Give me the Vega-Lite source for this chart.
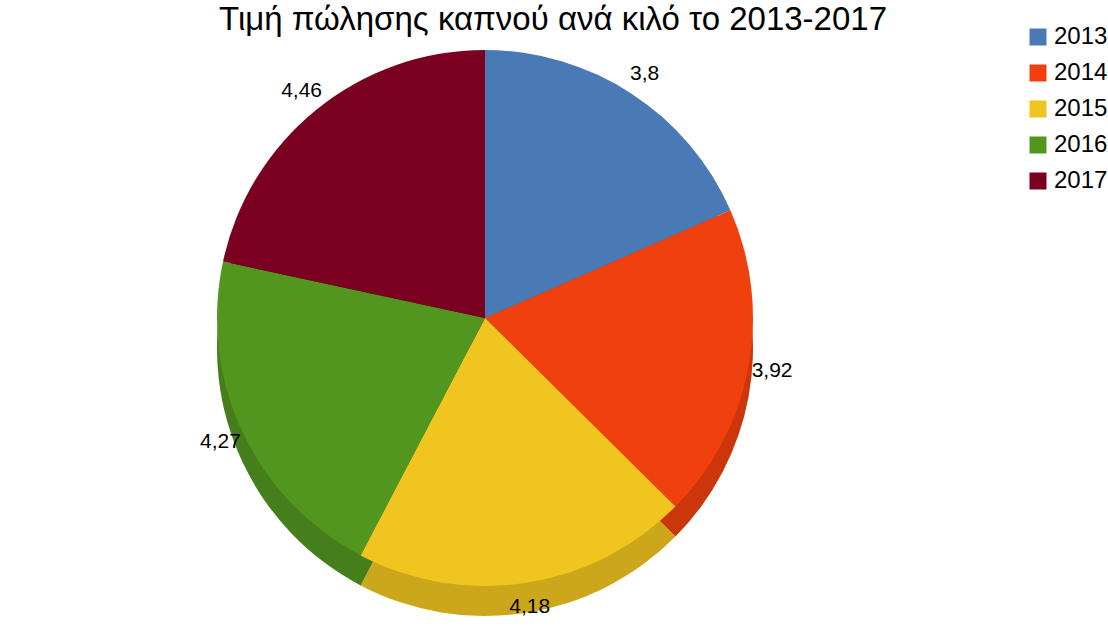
{
  "$schema": "https://vega.github.io/schema/vega-lite/v6.json",
  "width": 970,
  "height": 612,
  "padding": {"left": 0, "top": 4, "right": 0, "bottom": 4},
  "background": "white",
  "config": {
    "font": "Liberation Sans",
    "view": {"stroke": null},
    "locale": {"number": {"decimal": ",", "thousands": ".", "grouping": [3], "currency": ["", " €"]}}
  },
  "title": {
    "text": "Τιμή πώλησης καπνού ανά κιλό το 2013-2017",
    "fontSize": 33,
    "fontWeight": "normal",
    "font": "Liberation Sans",
    "color": "#000000",
    "anchor": "middle",
    "dx": 68,
    "offset": -25
  },
  "data": {
    "values": [
      {"year": "2013", "price": 3.8},
      {"year": "2014", "price": 3.92},
      {"year": "2015", "price": 4.18},
      {"year": "2016", "price": 4.27},
      {"year": "2017", "price": 4.46}
    ]
  },
  "encoding": {
    "theta": {"field": "price", "type": "quantitative", "stack": true},
    "order": {"field": "year", "type": "ordinal"}
  },
  "layer": [
    {
      "mark": {"type": "arc", "outerRadius": 268, "yOffset": 30},
      "encoding": {
        "color": {
          "field": "year",
          "type": "nominal",
          "scale": {
            "domain": ["2013", "2014", "2015", "2016", "2017"],
            "range": ["#4a7ab5", "#f0400e", "#f1c520", "#52951f", "#7a0020"]
          },
          "legend": {
            "title": null,
            "orient": "none",
            "legendX": 1026,
            "legendY": 13,
            "symbolType": "square",
            "symbolSize": 289,
            "symbolStrokeWidth": 0,
            "labelFontSize": 24,
            "labelFont": "Liberation Sans",
            "labelColor": "#000000",
            "labelOffset": 4,
            "rowPadding": 12
          }
        }
      }
    },
    {
      "mark": {"type": "arc", "outerRadius": 268, "yOffset": 30, "fill": "black", "opacity": 0.15},
      "encoding": {}
    },
    {
      "mark": {"type": "arc", "outerRadius": 268},
      "encoding": {
        "color": {"field": "year", "type": "nominal"}
      }
    },
    {
      "mark": {"type": "text", "radius": 292, "fontSize": 21, "font": "Liberation Sans", "fill": "#000000"},
      "encoding": {
        "text": {"field": "price", "type": "quantitative", "format": ".3~g"}
      }
    }
  ]
}
